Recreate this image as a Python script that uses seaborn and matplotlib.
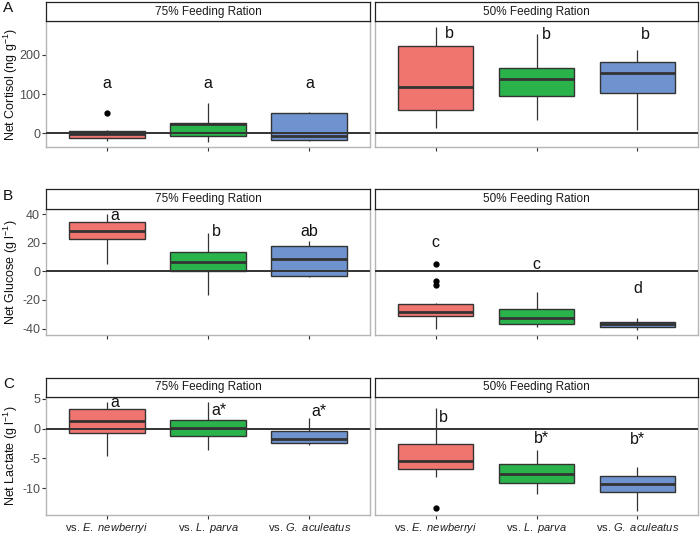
import numpy as np
import pandas as pd
import matplotlib
matplotlib.use("Agg")
import matplotlib.pyplot as plt
import seaborn as sns

sns.set_theme(style="white")
plt.rcParams['font.family'] = ['Liberation Sans', 'DejaVu Sans']
plt.rcParams['mathtext.fontset'] = 'custom'
plt.rcParams['mathtext.rm'] = 'Liberation Sans'
plt.rcParams['mathtext.it'] = 'Liberation Sans:italic'
plt.rcParams['axes.unicode_minus'] = False

# ---------------- data ----------------
species = ["E. newberryi", "L. parva", "G. aculeatus"]
tick_labels = [r"vs. $\mathit{E.\ newberryi}$", r"vs. $\mathit{L.\ parva}$",
               r"vs. $\mathit{G.\ aculeatus}$"]
rations = ["75% Feeding Ration", "50% Feeding Ration"]
colors = ["#F1756F", "#2BB34B", "#6E93CF"]

# five-number summaries per species: [whisker low, Q1, median, Q3, whisker high]
cortisol_75 = [[-20, -12, -3, 6, 9], [-22, -6, 23, 27, 76], [-20, -17, -8, 52, 55]]
cortisol_50 = [[13, 60, 119, 223, 271], [34, 94, 139, 166, 253], [9, 103, 153, 182, 212]]
cortisol_75_out = [[52], [], []]
cortisol_50_out = [[], [], []]

glucose_75 = [[5, 22.4, 28, 34.5, 40], [-16.6, 0.5, 6.5, 13.5, 27], [-4, -3, 8.6, 18, 21]]
glucose_50 = [[-40, -31.5, -28.7, -23, -22.4], [-38.7, -36.6, -32.7, -26.4, -14.7],
              [-41, -39, -37, -35.7, -32.7]]
glucose_75_out = [[], [], []]
glucose_50_out = [[5, -7, -9.5], [], []]

lactate_75 = [[-4.6, -0.78, 1.34, 3.25, 4.4], [-3.6, -1.2, 0.1, 1.4, 4.4],
              [-2.7, -2.4, -1.7, -0.33, 1.7]]
lactate_50 = [[-8.05, -6.8, -5.5, -2.6, 3.4], [-10.95, -9.06, -7.66, -5.9, -3.6],
              [-13.76, -10.57, -9.28, -8.0, -6.43]]
lactate_75_out = [[], [], []]
lactate_50_out = [[-13.4], [], []]

# significance letters: (label, x offset, y)
cortisol_75_letters = [("a", 0.0, 128), ("a", 0.0, 128), ("a", 0.0, 128)]
cortisol_50_letters = [("b", 0.14, 253), ("b", 0.10, 251), ("b", 0.08, 252)]
glucose_75_letters = [("a", 0.08, 38.9), ("b", 0.08, 28.2), ("ab", 0.0, 28.2)]
glucose_50_letters = [("c", 0.0, 20), ("c", 0.0, 5.1), ("d", 0.0, -11.9)]
lactate_75_letters = [("a", 0.08, 4.43), ("a*", 0.11, 2.97), ("a*", 0.10, 2.85)]
lactate_50_letters = [("b", 0.075, 1.91), ("b*", 0.05, -1.61), ("b*", 0.0, -1.9)]

panels = [
    dict(tag="A", ylabel=r"Net Cortisol (ng g$^{-1}$)", ylim=(-35, 286), yticks=[0, 100, 200],
         sets=[(cortisol_75, cortisol_75_out, cortisol_75_letters),
               (cortisol_50, cortisol_50_out, cortisol_50_letters)],
         strip=(2, 21), plot=(21, 147)),
    dict(tag="B", ylabel=r"Net Glucose (g l$^{-1}$)", ylim=(-44.5, 43.6), yticks=[-40, -20, 0, 20, 40],
         sets=[(glucose_75, glucose_75_out, glucose_75_letters),
               (glucose_50, glucose_50_out, glucose_50_letters)],
         strip=(189.5, 209), plot=(209, 335)),
    dict(tag="C", ylabel=r"Net Lactate (g l$^{-1}$)", ylim=(-14.5, 5.3), yticks=[-10, -5, 0, 5],
         sets=[(lactate_75, lactate_75_out, lactate_75_letters),
               (lactate_50, lactate_50_out, lactate_50_letters)],
         strip=(377.7, 397), plot=(397, 515)),
]


def observations(summary, outliers):
    """Expand a read five-number summary into observations with the same quartiles."""
    lo, q1, med, q3, hi = summary
    return [lo] + [q1] * 10 + [med] * 10 + [q3] * 10 + [hi] + list(outliers)


W, H = 700, 534
fig = plt.figure(figsize=(W / 100, H / 100), dpi=100)
cols = [(46.4, 370), (375, 698)]


def frac(x0, x1, y0, y1):
    return [x0 / W, 1 - y1 / H, (x1 - x0) / W, (y1 - y0) / H]


for p in panels:
    for ci, ((x0, x1), (summ, outs, letters)) in enumerate(zip(cols, p["sets"])):
        ax = fig.add_axes(frac(x0, x1, *p["plot"]))
        rows = []
        for sp, s, o in zip(species, summ, outs):
            for v in observations(s, o):
                rows.append((sp, v))
        df = pd.DataFrame(rows, columns=["species", "value"])
        sns.boxplot(data=df, x="species", y="value", hue="species", order=species,
                    hue_order=species, palette=colors, width=0.75, ax=ax, legend=False,
                    linecolor="#333333", linewidth=1.0, saturation=1,
                    flierprops=dict(marker="o", markerfacecolor="black",
                                    markeredgecolor="black", markersize=3.5),
                    medianprops=dict(linewidth=2.0, color="#333333"),
                    whiskerprops=dict(linewidth=0.9, color="#333333"),
                    capprops=dict(linewidth=0))
        ax.axhline(0, color="#333333", lw=1.4, zorder=10)
        ax.set_xlim(-0.6, 2.6)
        ax.set_ylim(*p["ylim"])
        ax.set_yticks(p["yticks"])
        ax.set_xlabel("")
        ax.set_ylabel("")
        for sp in ax.spines.values():
            sp.set_color("#B5B5B5")
            sp.set_linewidth(1.0)
        ax.tick_params(axis="both", length=3, width=0.8, color="#333333",
                       labelcolor="#4D4D4D", labelsize=9, pad=1.5,
                       bottom=True, left=True)
        ax.set_xticks(range(3))
        if p["tag"] == "C":
            ax.set_xticklabels(tick_labels, fontsize=8, color="#222222")
        else:
            ax.set_xticklabels([])
        if ci == 1:
            ax.tick_params(axis="y", left=False, labelleft=False)
        for i, (lab, dx, yy) in enumerate(letters):
            ax.text(i + dx, yy, lab, ha="center", va="center", fontsize=11.5, color="#111111")
        # strip
        sax = fig.add_axes(frac(x0, x1, *p["strip"]))
        sax.set_xticks([])
        sax.set_yticks([])
        sax.set_facecolor("white")
        for sp in sax.spines.values():
            sp.set_color("#222222")
            sp.set_linewidth(0.9)
        sax.text(0.5, 0.5, rations[ci], ha="center", va="center", fontsize=8.5,
                 color="#1A1A1A", transform=sax.transAxes)
    yc = (p["plot"][0] + p["plot"][1]) / 2
    fig.text(11 / W, 1 - yc / H, p["ylabel"], rotation=90, ha="center", va="center",
             fontsize=9, color="#111111")
    fig.text(3 / W, 1 - (p["strip"][0] + 6) / H, p["tag"], ha="left", va="center",
             fontsize=11, color="#111111")

fig.savefig("out.png", dpi=100)
